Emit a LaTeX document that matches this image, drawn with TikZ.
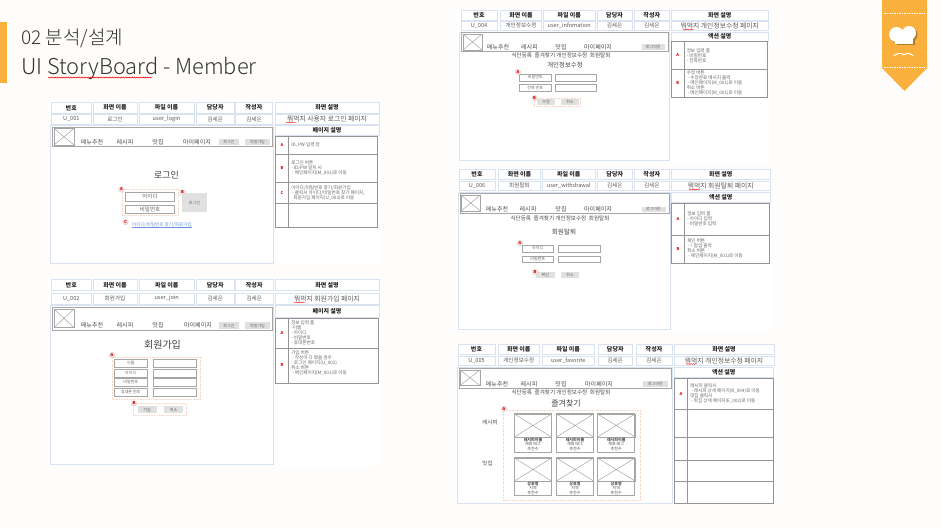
\documentclass[tikz,border=0pt]{standalone}
\usepackage{fontspec}
\setmainfont{Noto Sans CJK KR}
\newfontfamily\thinfont{Noto Sans CJK KR Light}
\usetikzlibrary{decorations.pathmorphing, calc}

\definecolor{ribbon}{HTML}{F9B03C}
\definecolor{cellblue}{HTML}{D9E2F1}
\definecolor{paper}{HTML}{FEFDFB}
\definecolor{titlegray}{HTML}{333333}
\definecolor{dashpink}{HTML}{F6D5C6}
\definecolor{linkblue}{HTML}{6C93DC}

% box between two corners, with its text in the middle
\newcommand{\rectnode}[7][]{%
  \node[rectcell,#1,minimum width={#5 pt-#3 pt},minimum height={#6 pt-#4 pt}] (#2)
    at ({(#3+#5)/2},{(#4+#6)/2}) {#7};}
\newcommand{\widetxt}{\fontsize{6.8}{7}\selectfont}

\begin{document}
\begin{tikzpicture}[x=1pt, y=-1pt, line width=0.5pt,
    % --- styles ---
    rectcell/.style={rectangle, draw=cellblue, inner sep=0pt, outer sep=0pt, text=black!75},
    headcell/.style={draw=cellblue, line width=0.8pt, font=\fontsize{6}{6}\selectfont\bfseries, text=black!85},
    valuecell/.style={draw=cellblue, line width=0.8pt, font=\fontsize{5.6}{6}\selectfont, text=black!65},
    frame/.style={draw=cellblue, line width=0.8pt},
    navbar/.style={draw=black!35, line width=0.8pt},
    logobox/.style={draw=black!35},
    navtext/.style={font=\fontsize{6}{6}\selectfont, text=black!70, inner sep=0pt},
    graybtn/.style={draw=none, fill=black!12, text=black!60, font=\fontsize{4}{4}\selectfont},
    fieldbox/.style={draw=black!35, text=black!60, font=\fontsize{4}{4}\selectfont},
    tablecell/.style={draw=black!42, line width=0.7pt},
    letter/.style={font=\fontsize{4}{4}\selectfont\bfseries, text=red!90!black},
    desc/.style={anchor=west, align=left, inner sep=0pt, text=black!60,
        font=\fontsize{4.6}{5}\selectfont},
    capttext/.style={anchor=north, align=center, inner sep=0pt, text=black!70,
        font=\fontsize{4}{4.4}\selectfont},
    badge/.style={circle, draw=black!15, fill=red!15, inner sep=0pt, minimum size=5.5pt,
        text=red!85!black, font=\fontsize{4}{4}\selectfont\bfseries},
    dashbox/.style={draw=dashpink, dash pattern=on 1pt off 0.6pt, fill=white},
    spell/.style={red, line width=0.35pt, decorate,
        decoration={snake, amplitude=0.5pt, segment length=2.2pt}},
    screentitle/.style={text=black!75, inner sep=0pt},
    panel/.style={draw=none, fill=white}
]
    \useasboundingbox (0,0) rectangle (941,527);
    \fill[paper] (0,0) rectangle (941,527);

    % =========================================
    % slide title
    % =========================================
    \fill[ribbon] (0,22) rectangle (7,83);
    \node[anchor=west, inner sep=0pt, text=titlegray, font=\thinfont\fontsize{19}{19}\selectfont]
        (chapter) at (21,38) {02 분석/설계};
    \node[anchor=west, inner sep=0pt, text=titlegray, font=\thinfont\fontsize{21.8}{22}\selectfont]
        (slidetitle) at (21,68) {UI StoryBoard - Member};
    \coordinate (spellstart) at (48,77.5);
    \coordinate (spellend) at (152,77.5);
    \draw[spell, line width=0.5pt] (spellstart) -- (spellend);

    % =========================================
    % ribbon on the right
    % =========================================
    \fill[ribbon] (882,0) -- (927,0) -- (927,68) -- (904.5,91) -- (882,68) -- cycle;
    \draw[white, dash pattern=on 1.5pt off 1pt] (884,13.5) -- (925,13.5);
    \draw[white, dash pattern=on 1.5pt off 1pt] (884,67.5) -- (925,67.5);
    % hat shadow, then the hat
    \begin{scope}[shift={(1.5,1.5)}]
        \fill[black!30!ribbon] (896.5,34.5) circle (7.5pt) (909,33) circle (7pt);
        \fill[black!30!ribbon] (895,36) rectangle (913,44);
    \end{scope}
    \fill[white] (896.5,34.5) circle (7.5pt) (909,33) circle (7pt);
    \fill[white] (895,36) rectangle (913,44);
    \draw[white, line width=1pt, line cap=round]
        (894,55.5) .. controls (899,52.5) and (901,53) .. (904,55)
        .. controls (907,53) and (909,52.5) .. (913,55.5);

    % =========================================
    % U_001 login
    % =========================================
    \fill[panel] (49,100) rectangle (380,265);
    \foreach \xa/\xb/\headtxt/\valtxt [count=\i] in {51.5/91/번호/U\_001, 93/137/화면 이름/로그인,
        139/194/파일 이름/user\_login, 196.5/234/담당자/김세은, 235.5/272.5/작성자/김세은,
        275/379/화면 설명/{\widetxt 뭐먹지 사용자 로그인 페이지}} {
        \rectnode[headcell]{hA\i}{\xa}{102.5}{\xb}{113}{\headtxt}
        \rectnode[valuecell]{vA\i}{\xa}{114.5}{\xb}{124}{\valtxt}
    }
    \rectnode[frame]{screenA}{50}{125}{273.5}{263}{}
    \rectnode[navbar]{navA}{52.5}{127}{272}{146}{}
    \rectnode[logobox]{logoA}{54}{128.5}{74}{145}{}
    \draw[black!35] (logoA.north west) -- (logoA.south east) (logoA.north east) -- (logoA.south west);
    \foreach \x/\txt [count=\i] in {92/메뉴추천, 125/레시피, 158/맛집, 197/마이페이지} {
        \node[navtext] (navA\i) at (\x,142) {\txt};
    }
    \rectnode[graybtn]{loginA}{219}{139}{239}{145}{로그인}
    \rectnode[graybtn]{joinA}{245}{139}{270}{145}{회원가입}
    \node[screentitle, font=\fontsize{9}{9}\selectfont] (titleA) at (166.5,175) {로그인};
    \rectnode[dashbox]{dashA}{122}{189}{178}{215}{}
    \rectnode[fieldbox, font=\fontsize{5.5}{5.5}\selectfont]{idA}{125.5}{192.5}{174.5}{201}{아이디}
    \rectnode[fieldbox, font=\fontsize{5.5}{5.5}\selectfont]{pwA}{125.5}{205}{174.5}{213.5}{비밀번호}
    \rectnode[graybtn]{sendA}{182}{193}{207}{212}{로그인}
    \node[badge] (badgeAa) at (121.5,189.5) {A};
    \node[badge] (badgeAb) at (182.5,192.5) {B};
    \node[badge] (badgeAc) at (125.5,222) {C};
    \node[inner sep=0pt, text=linkblue, font=\fontsize{4.6}{4.6}\selectfont] (linkA) at (162,225)
        {아이디/비밀번호 찾기/회원가입};
    \draw[linkblue, line width=0.3pt] (linkA.south west) -- (linkA.south east);
    % description table
    \rectnode[headcell]{pageA}{275}{125.5}{379}{135}{페이지 설명}
    \rectnode[tablecell]{a1}{275.5}{136}{288.5}{154.5}{}
    \rectnode[tablecell]{b1}{288.5}{136}{377.5}{154.5}{}
    \rectnode[tablecell]{a2}{275.5}{154.5}{288.5}{182.5}{}
    \rectnode[tablecell]{b2}{288.5}{154.5}{377.5}{182.5}{}
    \rectnode[tablecell]{a3}{275.5}{182.5}{288.5}{203.5}{}
    \rectnode[tablecell]{b3}{288.5}{182.5}{377.5}{203.5}{}
    \rectnode[tablecell]{a4}{275.5}{203.5}{288.5}{227}{}
    \rectnode[tablecell]{b4}{288.5}{203.5}{377.5}{227}{}
    \node[letter] (letA1) at (a1.center) {A};
    \node[letter] (letA2) at (a2.center) {B};
    \node[letter] (letA3) at (a3.center) {C};
    \node[desc] (dA1) at ([xshift=2.5pt]b1.west) {ID, PW 입력 창};
    \node[desc] (dA2) at ([xshift=2.5pt]b2.west) {로그인 버튼\\ - ID/PW 일치 시\\ \ : 메인페이지(M\_001)로 이동};
    \node[desc] (dA3) at ([xshift=2.5pt]b3.west) {아이디/비밀번호 찾기/회원가입\\ \ - 클릭시 아이디/비밀번호 찾기 페이지,\\ \ \ 회원가입 페이지(U\_003)로 이동};

    % =========================================
    % U_002 join
    % =========================================
    \fill[panel] (49,278) rectangle (380,466);
    \foreach \xa/\xb/\headtxt/\valtxt [count=\i] in {51.5/91/번호/U\_002, 93/137/화면 이름/회원가입,
        139/194.5/파일 이름/user\_join, 196.5/234/담당자/김세은, 235.5/273/작성자/김세은,
        275/379/화면 설명/{\widetxt 뭐먹지 회원가입 페이지}} {
        \rectnode[headcell]{hB\i}{\xa}{279.7}{\xb}{290.5}{\headtxt}
        \rectnode[valuecell]{vB\i}{\xa}{293}{\xb}{304}{\valtxt}
    }
    \rectnode[frame]{screenB}{50}{305.5}{273.5}{464}{}
    \rectnode[navbar]{navB}{52.5}{307}{272}{330.5}{}
    \rectnode[logobox]{logoB}{54}{309}{74}{327.5}{}
    \draw[black!35] (logoB.north west) -- (logoB.south east) (logoB.north east) -- (logoB.south west);
    \foreach \x/\txt [count=\i] in {92/메뉴추천, 125/레시피, 158/맛집, 198/마이페이지} {
        \node[navtext] (navB\i) at (\x,325) {\txt};
    }
    \rectnode[graybtn]{loginB}{219}{322}{239}{329}{로그인}
    \rectnode[graybtn]{joinB}{245}{322}{270}{329}{회원가입}
    \node[screentitle, font=\fontsize{10}{10}\selectfont] (titleB) at (162.5,345) {회원가입};
    \rectnode[dashbox]{dashB}{112.5}{357}{200.5}{399}{}
    \foreach \ya/\yb/\txt [count=\i] in {359/367/이름, 369.5/377/아이디, 378.5/386/비밀번호, 388.5/396/휴대폰 번호} {
        \rectnode[fieldbox]{labelB\i}{114.5}{\ya}{147}{\yb}{\txt}
        \rectnode[fieldbox]{inputB\i}{153}{\ya}{196.5}{\yb}{}
    }
    \rectnode[dashbox]{dashBb}{133}{403.5}{186}{415.5}{}
    \rectnode[graybtn]{okB}{137.5}{406}{156.5}{413}{가입}
    \rectnode[graybtn]{noB}{164}{406}{183}{413}{취소}
    \node[badge] (badgeBa) at (112,355) {A};
    \node[badge] (badgeBb) at (134,403.5) {B};
    \rectnode[headcell]{pageB}{275}{305.5}{379}{317}{페이지 설명}
    \rectnode[tablecell]{c1}{275.5}{318}{288.5}{348}{}
    \rectnode[tablecell]{e1}{288.5}{318}{378}{348}{}
    \rectnode[tablecell]{c2}{275.5}{348}{288.5}{383}{}
    \rectnode[tablecell]{e2}{288.5}{348}{378}{383}{}
    \node[letter] (letB1) at (c1.center) {A};
    \node[letter] (letB2) at (c2.center) {B};
    \node[desc] (dB1) at ([xshift=2.5pt]e1.west) {정보 입력 폼\\ -이름\\ - 아이디\\ - 비밀번호\\ - 휴대폰번호};
    \node[desc] (dB2) at ([xshift=2.5pt]e2.west) {가입 버튼\\ \ - 작성이 다 됐을 경우\\ : 로그인 페이지(U\_001)\\ 취소 버튼\\ \ - 메인페이지(M\_001)로 이동\\ \ };

    % =========================================
    % U_004 my info
    % =========================================
    \fill[panel] (458,8) rectangle (770,162);
    \foreach \xa/\xb/\headtxt/\valtxt [count=\i] in {461/497/번호/U\_004, 500.5/541.5/화면 이름/개인정보수정,
        543.5/595/파일 이름/user\_infomation, 597/632/담당자/김세은, 634/669.5/작성자/김세은,
        671/768.5/화면 설명/{\widetxt 뭐먹지 개인정보수정 페이지}} {
        \rectnode[headcell]{hC\i}{\xa}{10.5}{\xb}{20}{\headtxt}
        \rectnode[valuecell]{vC\i}{\xa}{21}{\xb}{30.5}{\valtxt}
    }
    \rectnode[frame]{screenC}{459}{32}{669.5}{160.5}{}
    \rectnode[navbar]{navC}{461}{32.5}{668}{51.5}{}
    \rectnode[logobox]{logoC}{463}{34}{482}{50}{}
    \draw[black!35] (logoC.north west) -- (logoC.south east) (logoC.north east) -- (logoC.south west);
    \foreach \x/\txt [count=\i] in {498/메뉴추천, 529.5/레시피, 561/맛집, 598/마이페이지} {
        \node[navtext] (navC\i) at (\x,47) {\txt};
    }
    \rectnode[graybtn]{logoutC}{641.5}{44.5}{665}{50}{로그아웃}
    \node[navtext, font=\fontsize{5.6}{5.6}\selectfont] (subC) at (561,55.5) {식단등록\ \ 즐겨찾기\ 개인정보수정\ \ 회원탈퇴};
    \node[screentitle, font=\fontsize{6.4}{6.4}\selectfont] (titleC) at (565,65) {개인정보수정};
    \rectnode[fieldbox]{labelC1}{519.5}{74}{551}{81}{비밀번호}
    \rectnode[fieldbox]{inputC1}{555.5}{74}{596.5}{81}{}
    \rectnode[fieldbox]{labelC2}{519.5}{84.5}{551}{91}{전화 번호}
    \rectnode[fieldbox]{inputC2}{555.5}{84.5}{596.5}{91}{}
    \rectnode[dashbox]{dashC}{534}{98}{580.5}{106.5}{}
    \rectnode[graybtn]{okC}{537}{99}{555}{105}{수정}
    \rectnode[graybtn]{noC}{561}{99}{579}{105}{취소}
    \node[badge] (badgeCa) at (518,72) {A};
    \node[badge] (badgeCb) at (534.5,98) {B};
    \rectnode[headcell]{pageC}{671}{32}{768.5}{41}{액션 설명}
    \rectnode[tablecell]{f1}{671.5}{41.5}{684}{69.5}{}
    \rectnode[tablecell]{g1}{684}{41.5}{767}{69.5}{}
    \rectnode[tablecell]{f2}{671.5}{69.5}{684}{97.5}{}
    \rectnode[tablecell]{g2}{684}{69.5}{767}{97.5}{}
    \node[letter] (letC1) at (f1.center) {A};
    \node[letter] (letC2) at (f2.center) {B};
    \node[desc] (dC1) at ([xshift=2.5pt]g1.west) {정보 입력 폼\\ - 비밀번호\\ - 전화번호};
    \node[desc] (dC2) at ([xshift=2.5pt]g2.west) {수정 버튼\\ \ - 수정완료 메시지 출력\\ \ - 메인페이지(M\_001)로 이동\\ 취소 버튼\\ \ - 메인페이지(M\_001)로 이동};

    % =========================================
    % U_006 withdrawal
    % =========================================
    \fill[panel] (457,168) rectangle (771,331);
    \foreach \xa/\xb/\headtxt/\valtxt [count=\i] in {459/495/번호/U\_006, 498.5/540.5/화면 이름/회원탈퇴,
        542.5/595/파일 이름/user\_withdrawal, 597/632.5/담당자/김세은, 634/669.5/작성자/김세은,
        671.5/770/화면 설명/{\widetxt 뭐먹지 회원탈퇴 페이지}} {
        \rectnode[headcell]{hD\i}{\xa}{169.5}{\xb}{179.5}{\headtxt}
        \rectnode[valuecell]{vD\i}{\xa}{181}{\xb}{190.5}{\valtxt}
    }
    \rectnode[frame]{screenD}{458}{192}{670}{329.5}{}
    \rectnode[navbar]{navD}{460.5}{193.5}{669}{213.5}{}
    \rectnode[logobox]{logoD}{461}{195}{480.5}{211}{}
    \draw[black!35] (logoD.north west) -- (logoD.south east) (logoD.north east) -- (logoD.south west);
    \foreach \x/\txt [count=\i] in {497/메뉴추천, 528/레시피, 561/맛집, 598/마이페이지} {
        \node[navtext] (navD\i) at (\x,209) {\txt};
    }
    \rectnode[graybtn]{logoutD}{641.5}{206.5}{665.5}{212}{로그아웃}
    \node[navtext, font=\fontsize{5.6}{5.6}\selectfont] (subD) at (560,218) {식단등록\ \ 즐겨찾기\ 개인정보수정\ \ 회원탈퇴};
    \node[screentitle, font=\fontsize{6.6}{6.6}\selectfont] (titleD) at (564,232) {회원탈퇴};
    \rectnode[fieldbox]{labelD1}{522}{245}{553.5}{252}{아이디}
    \rectnode[fieldbox]{inputD1}{558.5}{245}{600}{252}{}
    \rectnode[fieldbox]{labelD2}{522}{256}{553.5}{262.5}{비밀번호}
    \rectnode[fieldbox]{inputD2}{558.5}{256}{600}{262.5}{}
    \rectnode[graybtn]{okD}{536}{271.5}{554.5}{278}{확인}
    \rectnode[graybtn]{noD}{561}{271.5}{579}{278}{취소}
    \node[badge] (badgeDa) at (520,243) {A};
    \node[badge] (badgeDb) at (535,272) {B};
    \rectnode[headcell]{pageD}{671.5}{192}{770}{202}{액션 설명}
    \rectnode[tablecell]{m1}{671.5}{203}{684.5}{235}{}
    \rectnode[tablecell]{n1}{684.5}{203}{769}{235}{}
    \rectnode[tablecell]{m2}{671.5}{235}{684.5}{263}{}
    \rectnode[tablecell]{n2}{684.5}{235}{769}{263}{}
    \node[letter] (letD1) at (m1.center) {A};
    \node[letter] (letD2) at (m2.center) {B};
    \node[desc] (dD1) at ([xshift=2.5pt]n1.west) {정보 입력 폼\\ - 아이디 입력\\ - 비밀번호 입력};
    \node[desc] (dD2) at ([xshift=2.5pt]n2.west) {확인 버튼\\ \ - ! 팝업 출력\\ 취소 버튼\\ \ - 메인페이지(M\_001)로 이동};

    % =========================================
    % U_005 favorite
    % =========================================
    \fill[panel] (457,343) rectangle (775,505);
    \foreach \xa/\xb/\headtxt/\valtxt [count=\i] in {458/495/번호/U\_005, 498/539.5/화면 이름/개인정보수정,
        542.5/594/파일 이름/user\_favorite, 598/632.5/담당자/김세은, 636/672/작성자/김세은,
        674/774/화면 설명/{\widetxt 뭐먹지 개인정보수정 페이지}} {
        \rectnode[headcell]{hE\i}{\xa}{344.5}{\xb}{354}{\headtxt}
        \rectnode[valuecell]{vE\i}{\xa}{356}{\xb}{365}{\valtxt}
    }
    \rectnode[frame]{screenE}{457}{367}{672.5}{503}{}
    \rectnode[navbar]{navE}{459}{368}{671}{388}{}
    \rectnode[logobox]{logoE}{460}{370}{480}{385.5}{}
    \draw[black!35] (logoE.north west) -- (logoE.south east) (logoE.north east) -- (logoE.south west);
    \foreach \x/\txt [count=\i] in {497/메뉴추천, 529/레시피, 561/맛집, 599/마이페이지} {
        \node[navtext] (navE\i) at (\x,384) {\txt};
    }
    \rectnode[graybtn]{logoutE}{643}{381}{668}{386.5}{로그아웃}
    \node[navtext, font=\fontsize{5.6}{5.6}\selectfont] (subE) at (561,392) {식단등록\ \ 즐겨찾기\ 개인정보수정\ \ 회원탈퇴};
    \node[screentitle, font=\fontsize{8}{8}\selectfont] (titleE) at (566,403) {즐겨찾기};
    \rectnode[dashbox]{dashE}{503.5}{410}{640.5}{500.5}{}
    \node[badge] (badgeEa) at (504,409) {A};
    \node[navtext, font=\fontsize{5.5}{5.5}\selectfont] (rowE1) at (490,422.5) {레시피};
    \node[navtext, font=\fontsize{5.5}{5.5}\selectfont] (rowE2) at (487.5,463.5) {맛집};
    % picture cards, two rows of three
    \foreach \xa/\xb [count=\i] in {514.5/551, 556.5/593, 597.5/634.5} {
        \rectnode[logobox]{cardA\i}{\xa}{413}{\xb}{452}{}
        \rectnode[logobox]{imgA\i}{\xa+4}{414}{\xb-3.5}{437}{}
        \draw[black!35] (imgA\i.north west) -- (imgA\i.south east) (imgA\i.north east) -- (imgA\i.south west);
        \node[capttext] (capA\i) at ([yshift=-0.6pt]imgA\i.south)
            {\textbf{레시피이름}\\ 재료 태그\\ 추천수};
        \rectnode[logobox]{cardB\i}{\xa}{457}{\xb}{495.5}{}
        \rectnode[logobox]{imgB\i}{\xa+4}{458}{\xb-3.5}{481}{}
        \draw[black!35] (imgB\i.north west) -- (imgB\i.south east) (imgB\i.north east) -- (imgB\i.south west);
        \node[capttext] (capB\i) at ([yshift=-0.6pt]imgB\i.south)
            {\textbf{상호명}\\ 지역\\ 추천수};
    }
    \rectnode[headcell]{pageE}{674}{367}{773.5}{377}{액션 설명}
    \foreach \ya/\yb [count=\i] in {378/409.5, 409.5/437, 437/460.5, 460.5/481, 481/503} {
        \rectnode[tablecell]{p\i}{674.5}{\ya}{687.5}{\yb}{}
        \rectnode[tablecell]{q\i}{687.5}{\ya}{773.5}{\yb}{}
    }
    \node[letter] (letE1) at (p1.center) {A};
    \node[desc] (dE1) at ([xshift=2.5pt]q1.west) {레시피 클릭시\\ \ - 레시피 상세 페이지(R\_004)로 이동\\ 맛집 클릭시\\ \ - 맛집 상세 페이지(E\_002)로 이동};

    % spell check marks under the value cells
    \foreach \xa/\xb/\y in {286/296/122.5, 294/305/302.5, 683/694/29.5, 689/700/189.5, 686/697/364} {
        \draw[spell] (\xa,\y) -- (\xb,\y);
    }

\end{tikzpicture}
\end{document}
